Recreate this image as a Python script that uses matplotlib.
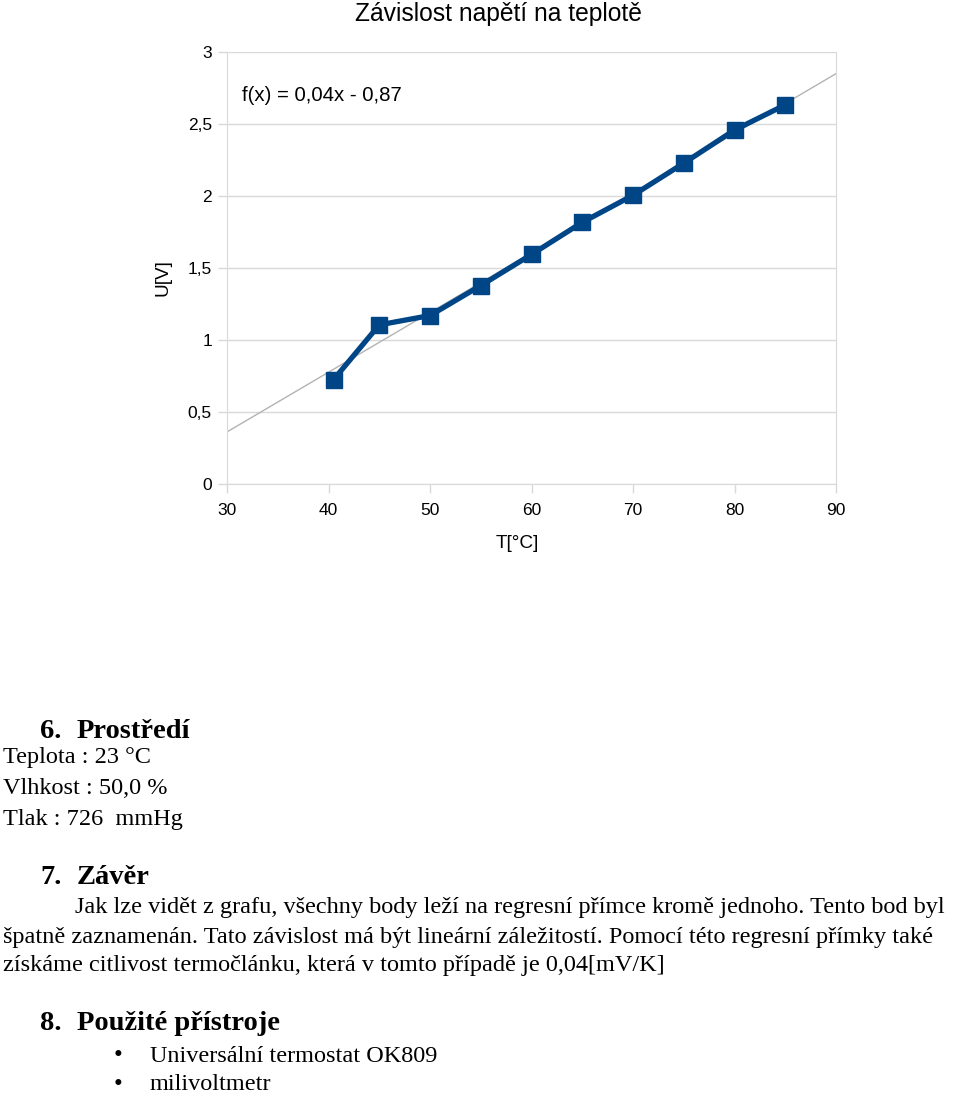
import numpy as np
import matplotlib
matplotlib.use("Agg")
import matplotlib.pyplot as plt
from matplotlib.ticker import FuncFormatter

# Data
temps = [40.5, 45, 50, 55, 60, 65, 70, 75, 80, 85]
volts = [0.725, 1.105, 1.17, 1.378, 1.594, 1.817, 2.005, 2.228, 2.458, 2.633]
x_ticks = [30, 40, 50, 60, 70, 80, 90]
y_ticks = [0, 0.5, 1, 1.5, 2, 2.5, 3]
title = "Závislost napětí na teplotě"
eq_label = "f(x) = 0,04x - 0,87"

W, H = 960, 1098
fig = plt.figure(figsize=(W / 100, H / 100), dpi=100)

def fx(px):
    return px / W

def fy(py):
    return 1 - py / H

ax = fig.add_axes([fx(227), fy(484), fx(836) - fx(227), fy(52) - fy(484)])
sans = ["Liberation Sans", "DejaVu Sans"]
serif = ["Liberation Serif", "DejaVu Serif"]

grid_c = "#d9d9d9"
ax.set_xlim(30, 90)
ax.set_ylim(0, 3)
ax.set_xticks(x_ticks)
ax.set_yticks(y_ticks)
ax.yaxis.grid(True, color=grid_c, linewidth=1)
ax.set_axisbelow(True)
for s in ["left", "bottom", "right"]:
    ax.spines[s].set_color(grid_c)
ax.spines["top"].set_visible(False)
ax.tick_params(axis="both", colors=grid_c, length=6.5, width=1, labelcolor="black",
               labelsize=12.5)
ax.tick_params(axis="y", pad=4.3)
ax.tick_params(axis="x", pad=7.5)
ax.yaxis.set_major_formatter(FuncFormatter(lambda v, p: ("%g" % v).replace(".", ",")))
for lab in ax.get_xticklabels() + ax.get_yticklabels():
    lab.set_fontfamily(sans)

# regression line
k, q = np.polyfit(temps, volts, 1)
xs = np.array([30, 90])
ax.plot(xs, k * xs + q, color="#b3b3b3", linewidth=1, zorder=2)

ax.plot(temps, volts, color="#004586", linewidth=3.8, marker="s", markersize=11,
        zorder=3, clip_on=False)

ax.text(0.024, 0.9, eq_label, transform=ax.transAxes, fontsize=14.7, family=sans,
        va="center", ha="left")

fig.text(fx(498), fy(14), title, fontsize=17.7, family=sans, ha="center", va="center")
fig.text(fx(517), fy(544), "T[°C]", fontsize=13.7, family=sans, ha="center", va="center")
fig.text(fx(163), fy(278), "U[V]", fontsize=13.7, family=sans, ha="center", va="center",
         rotation=90)

# Document text below
def t(x, y, s, size=17.5, bold=False):
    fig.text(fx(x), fy(y), s, fontsize=size, family=serif,
             fontweight="bold" if bold else "normal", ha="left", va="center")

t(40, 731, "6.", 20.5, True)
t(77, 731, "Prostředí", 20.5, True)
t(3, 757, "Teplota : 23 °C")
t(3, 788, "Vlhkost : 50,0 %")
t(3, 819, "Tlak : 726  mmHg")
t(40, 877, "7.", 20.5, True)
t(77, 877, "Závěr", 20.5, True)
t(75, 908, "Jak lze vidět z grafu, všechny body leží na regresní přímce kromě jednoho. Tento bod byl")
t(3, 937, "špatně zaznamenán. Tato závislost má být lineární záležitostí. Pomocí této regresní přímky také")
t(3, 966, "získáme citlivost termočlánku, která v tomto případě je 0,04[mV/K]")
t(40, 1024, "8.", 20.5, True)
t(77, 1024, "Použité přístroje", 20.5, True)
t(114, 1056, "•", 18)
t(150, 1056, "Universální termostat OK809")
t(114, 1085, "•", 18)
t(150, 1085, "milivoltmetr")

fig.savefig("out.png", dpi=100)
